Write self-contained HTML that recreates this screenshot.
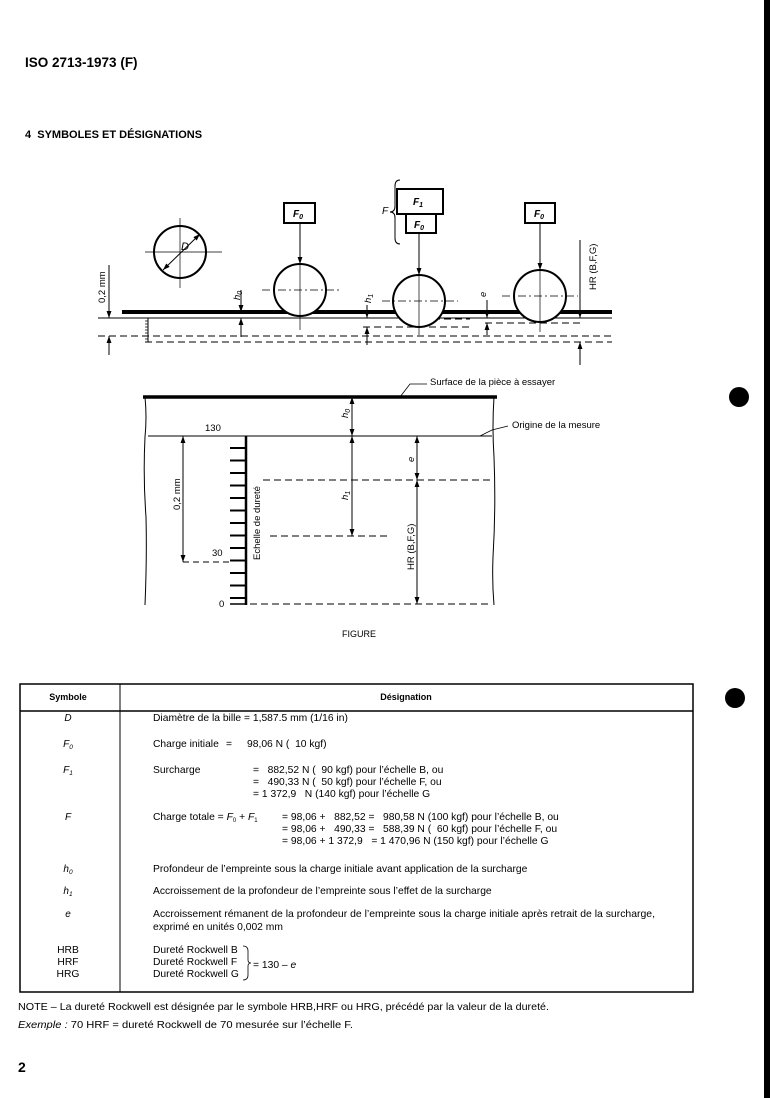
<!DOCTYPE html>
<html><head><meta charset="utf-8"><style>
html,body{margin:0;padding:0;background:#fff;}
svg{display:block;font-family:"Liberation Sans",sans-serif;}
text{white-space:pre;}
</style></head><body>
<svg width="770" height="1098" viewBox="0 0 770 1098" xmlns="http://www.w3.org/2000/svg">
<defs>
<marker id="a" viewBox="0 0 10 10" refX="10" refY="5" markerWidth="7" markerHeight="7" orient="auto-start-reverse"><path d="M0,1.5 L10,5 L0,8.5 z" fill="#000"/></marker>
</defs>
<rect x="764" y="0" width="6" height="1098" fill="#000"/>
<circle cx="739" cy="397" r="10" fill="#000"/>
<circle cx="735" cy="698" r="10" fill="#000"/>
<text x="25" y="67" font-size="13.5" font-weight="bold">ISO 2713-1973 (F)</text>
<text x="25" y="138" font-size="11" font-weight="bold">4  SYMBOLES ET DÉSIGNATIONS</text>

<g stroke="#000" fill="none" stroke-width="1">
<circle cx="180" cy="252" r="26" stroke-width="2"/>
<line x1="145" y1="252" x2="222" y2="252" stroke-width="0.7"/>
<line x1="180" y1="218" x2="180" y2="288" stroke-width="0.7"/>
<line x1="163" y1="270" x2="200" y2="234" marker-start="url(#a)" marker-end="url(#a)"/>
<line x1="122" y1="312" x2="612" y2="312" stroke-width="4"/>
<line x1="98" y1="318" x2="612" y2="318"/>
<line x1="98" y1="336" x2="612" y2="336" stroke-dasharray="7,4"/>
<line x1="145" y1="342" x2="612" y2="342" stroke-dasharray="7,4"/>
<line x1="148" y1="318" x2="148" y2="342"/>
<path d="M145,321h3M145,324h3M145,327h3M145,330h3M145,333h3M145,336h3M145,339h3" stroke-width="0.7"/>
<circle cx="300" cy="290" r="26" fill="#fff" stroke-width="2"/>
<line x1="262" y1="290" x2="340" y2="290" stroke-width="0.7" stroke-dasharray="8,3,2,3"/>
<line x1="300" y1="264" x2="300" y2="330" stroke-width="0.7"/>
<rect x="284" y="203" width="31" height="20" stroke-width="2"/>
<line x1="300" y1="223" x2="300" y2="264" marker-end="url(#a)"/>
<line x1="363" y1="327" x2="470" y2="327" stroke-dasharray="7,4"/>
<line x1="400" y1="319" x2="470" y2="319" stroke-dasharray="7,4"/>
<circle cx="419" cy="301" r="26" fill="#fff" stroke-width="2"/>
<line x1="382" y1="301" x2="458" y2="301" stroke-width="0.7" stroke-dasharray="8,3,2,3"/>
<line x1="419" y1="233" x2="419" y2="275" marker-end="url(#a)"/>
<line x1="419" y1="275" x2="419" y2="335" stroke-width="0.7"/>
<rect x="397" y="189" width="46" height="25" stroke-width="2"/>
<rect x="406" y="214" width="30" height="19" stroke-width="2"/>
<path d="M400,180 q-5,0 -5,6 v20 q0,6 -5,6 q5,0 5,6 v20 q0,6 5,6"/>
<line x1="485" y1="323" x2="580" y2="323" stroke-dasharray="7,4"/>
<circle cx="540" cy="296" r="26" fill="#fff" stroke-width="2"/>
<line x1="502" y1="296" x2="578" y2="296" stroke-width="0.7" stroke-dasharray="8,3,2,3"/>
<line x1="540" y1="223" x2="540" y2="270" marker-end="url(#a)"/>
<line x1="540" y1="270" x2="540" y2="332" stroke-width="0.7"/>
<rect x="525" y="203" width="30" height="20" stroke-width="2"/>
<line x1="109" y1="265" x2="109" y2="318" marker-end="url(#a)"/>
<line x1="109" y1="355" x2="109" y2="336" marker-end="url(#a)"/>
<line x1="241" y1="290" x2="241" y2="312" marker-end="url(#a)"/>
<line x1="241" y1="337" x2="241" y2="318" marker-end="url(#a)"/>
<line x1="367" y1="305" x2="367" y2="318" marker-end="url(#a)"/>
<line x1="367" y1="345" x2="367" y2="327" marker-end="url(#a)"/>
<line x1="487" y1="300" x2="487" y2="318" marker-end="url(#a)"/>
<line x1="487" y1="335" x2="487" y2="323" marker-end="url(#a)"/>
<line x1="580" y1="240" x2="580" y2="318" marker-end="url(#a)"/>
<line x1="580" y1="365" x2="580" y2="342" marker-end="url(#a)"/>
</g>
<g font-size="10" font-style="italic" font-weight="bold">
<text x="293" y="217">F<tspan font-size="7" dy="2">0</tspan></text>
<text x="413" y="205">F<tspan font-size="7" dy="2">1</tspan></text>
<text x="414" y="228">F<tspan font-size="7" dy="2">0</tspan></text>
<text x="534" y="217">F<tspan font-size="7" dy="2">0</tspan></text>
<text x="382" y="214" font-weight="normal">F</text>
<text x="181" y="250" font-weight="normal" font-size="11">D</text>
</g>
<g font-size="9.5">
<text transform="translate(105,303) rotate(-90)">0,2 mm</text>
<text transform="translate(240,300) rotate(-90)" font-style="italic">h<tspan font-size="7" dy="2">0</tspan></text>
<text transform="translate(371,303) rotate(-90)" font-style="italic">h<tspan font-size="7" dy="2">1</tspan></text>
<text transform="translate(486,297) rotate(-90)" font-style="italic">e</text>
<text transform="translate(596,290) rotate(-90)">HR (B,F,G)</text>
</g>

<g stroke="#000" fill="none" stroke-width="1">
<line x1="143" y1="397" x2="497" y2="397" stroke-width="3.5"/>
<path d="M145,397 q2,20 0,40 q-2,40 1,80 q1,40 -1,88"/>
<path d="M494,397 q-2,30 0,60 q2,50 -1,100 q-1,25 1,48"/>
<line x1="148" y1="436" x2="492" y2="436"/>
<line x1="246" y1="436" x2="246" y2="605" stroke-width="2.5"/>
<path d="M230,448h16M230,460.5h16M230,473h16M230,485.5h16M230,498h16M230,510.5h16M230,523h16M230,535.5h16M230,548h16M230,560.5h16M230,573h16M230,585.5h16M230,598h16" stroke-width="2"/>
<line x1="230" y1="604" x2="246" y2="604" stroke-width="1.5"/>
<line x1="183" y1="562" x2="232" y2="562" stroke-dasharray="6,4"/>
<line x1="183" y1="436" x2="183" y2="562" marker-start="url(#a)" marker-end="url(#a)"/>
<line x1="263" y1="480" x2="492" y2="480" stroke-dasharray="7,4"/>
<line x1="270" y1="536" x2="390" y2="536" stroke-dasharray="7,4"/>
<line x1="250" y1="604" x2="492" y2="604" stroke-dasharray="7,4"/>
<line x1="352" y1="397" x2="352" y2="436" marker-start="url(#a)" marker-end="url(#a)"/>
<line x1="352" y1="436" x2="352" y2="536" marker-start="url(#a)" marker-end="url(#a)"/>
<line x1="417" y1="436" x2="417" y2="480" marker-start="url(#a)" marker-end="url(#a)"/>
<line x1="417" y1="480" x2="417" y2="604" marker-start="url(#a)" marker-end="url(#a)"/>
<path d="M400,397 L410,384 L427,384" stroke-width="0.8"/>
<path d="M480,436 L492,430 L508,426" stroke-width="0.8"/>
</g>
<g font-size="9.5">
<text x="430" y="385">Surface de la pièce à essayer</text>
<text x="512" y="428">Origine de la mesure</text>
<text x="205" y="431">130</text>
<text x="212" y="556">30</text>
<text x="219" y="607">0</text>
<text transform="translate(180,510) rotate(-90)">0,2 mm</text>
<text transform="translate(260,560) rotate(-90)">Echelle de dureté</text>
<text transform="translate(348,418) rotate(-90)" font-style="italic">h<tspan font-size="7" dy="2">0</tspan></text>
<text transform="translate(348,500) rotate(-90)" font-style="italic">h<tspan font-size="7" dy="2">1</tspan></text>
<text transform="translate(414,462) rotate(-90)" font-style="italic">e</text>
<text transform="translate(414,570) rotate(-90)">HR (B,F,G)</text>
<text x="342" y="637" font-size="9">FIGURE</text>
</g>

<g stroke="#000" fill="none">
<rect x="20" y="684" width="673" height="308" stroke-width="1.5"/>
<line x1="20" y1="711" x2="693" y2="711" stroke-width="1.5"/>
<line x1="120" y1="684" x2="120" y2="992"/>
<path d="M243,946 q5,0 5,5 v9 q0,3 3,3 q-3,0 -3,3 v9 q0,5 -5,5" stroke-width="0.8"/>
</g>
<g font-size="10.3">
<text x="68" y="700" text-anchor="middle" font-weight="bold" font-size="9">Symbole</text>
<text x="406" y="700" text-anchor="middle" font-weight="bold" font-size="9">Désignation</text>
<g font-style="italic" text-anchor="middle" font-size="10">
<text x="68" y="721">D</text>
<text x="68" y="747">F<tspan font-size="6.5" dy="2">0</tspan></text>
<text x="68" y="773">F<tspan font-size="6.5" dy="2">1</tspan></text>
<text x="68" y="820">F</text>
<text x="68" y="872">h<tspan font-size="6.5" dy="2">0</tspan></text>
<text x="68" y="894">h<tspan font-size="6.5" dy="2">1</tspan></text>
<text x="68" y="917">e</text>
</g>
<text x="68" y="953" text-anchor="middle">HRB</text>
<text x="68" y="965" text-anchor="middle">HRF</text>
<text x="68" y="977" text-anchor="middle">HRG</text>
<text x="153" y="721">Diamètre de la bille = 1,587.5 mm (1/16 in)</text>
<text x="153" y="747">Charge initiale<tspan x="226">=</tspan><tspan x="247">98,06 N (  10 kgf)</tspan></text>
<text x="153" y="773">Surcharge<tspan x="253">=   882,52 N (  90 kgf) pour l’échelle B, ou</tspan></text>
<text x="253" y="785">=   490,33 N (  50 kgf) pour l’échelle F, ou</text>
<text x="253" y="797">= 1 372,9   N (140 kgf) pour l’échelle G</text>
<text x="153" y="820">Charge totale = <tspan font-style="italic">F</tspan><tspan font-size="6" dy="2">0</tspan><tspan dy="-2"> + </tspan><tspan font-style="italic">F</tspan><tspan font-size="6" dy="2">1</tspan><tspan dy="-2" x="282">= 98,06 +   882,52 =   980,58 N (100 kgf) pour l’échelle B, ou</tspan></text>
<text x="282" y="832">= 98,06 +   490,33 =   588,39 N (  60 kgf) pour l’échelle F, ou</text>
<text x="282" y="844">= 98,06 + 1 372,9   = 1 470,96 N (150 kgf) pour l’échelle G</text>
<text x="153" y="872">Profondeur de l’empreinte sous la charge initiale avant application de la surcharge</text>
<text x="153" y="894">Accroissement de la profondeur de l’empreinte sous l’effet de la surcharge</text>
<text x="153" y="917" textLength="502" lengthAdjust="spacingAndGlyphs">Accroissement rémanent de la profondeur de l’empreinte sous la charge initiale après retrait de la surcharge,</text>
<text x="153" y="930">exprimé en unités 0,002 mm</text>
<text x="153" y="953">Dureté Rockwell B</text>
<text x="153" y="965">Dureté Rockwell F</text>
<text x="153" y="977">Dureté Rockwell G</text>
<text x="253" y="968">= 130 – <tspan font-style="italic">e</tspan></text>
<text x="18" y="1010" textLength="531" lengthAdjust="spacingAndGlyphs">NOTE – La dureté Rockwell est désignée par le symbole HRB,HRF ou HRG, précédé par la valeur de la dureté.</text>
<text x="18" y="1028" textLength="335" lengthAdjust="spacingAndGlyphs"><tspan font-style="italic">Exemple :</tspan> 70 HRF = dureté Rockwell de 70 mesurée sur l’échelle F.</text>
</g>
<text x="18" y="1072" font-size="14" font-weight="bold">2</text>
</svg>
</body></html>
